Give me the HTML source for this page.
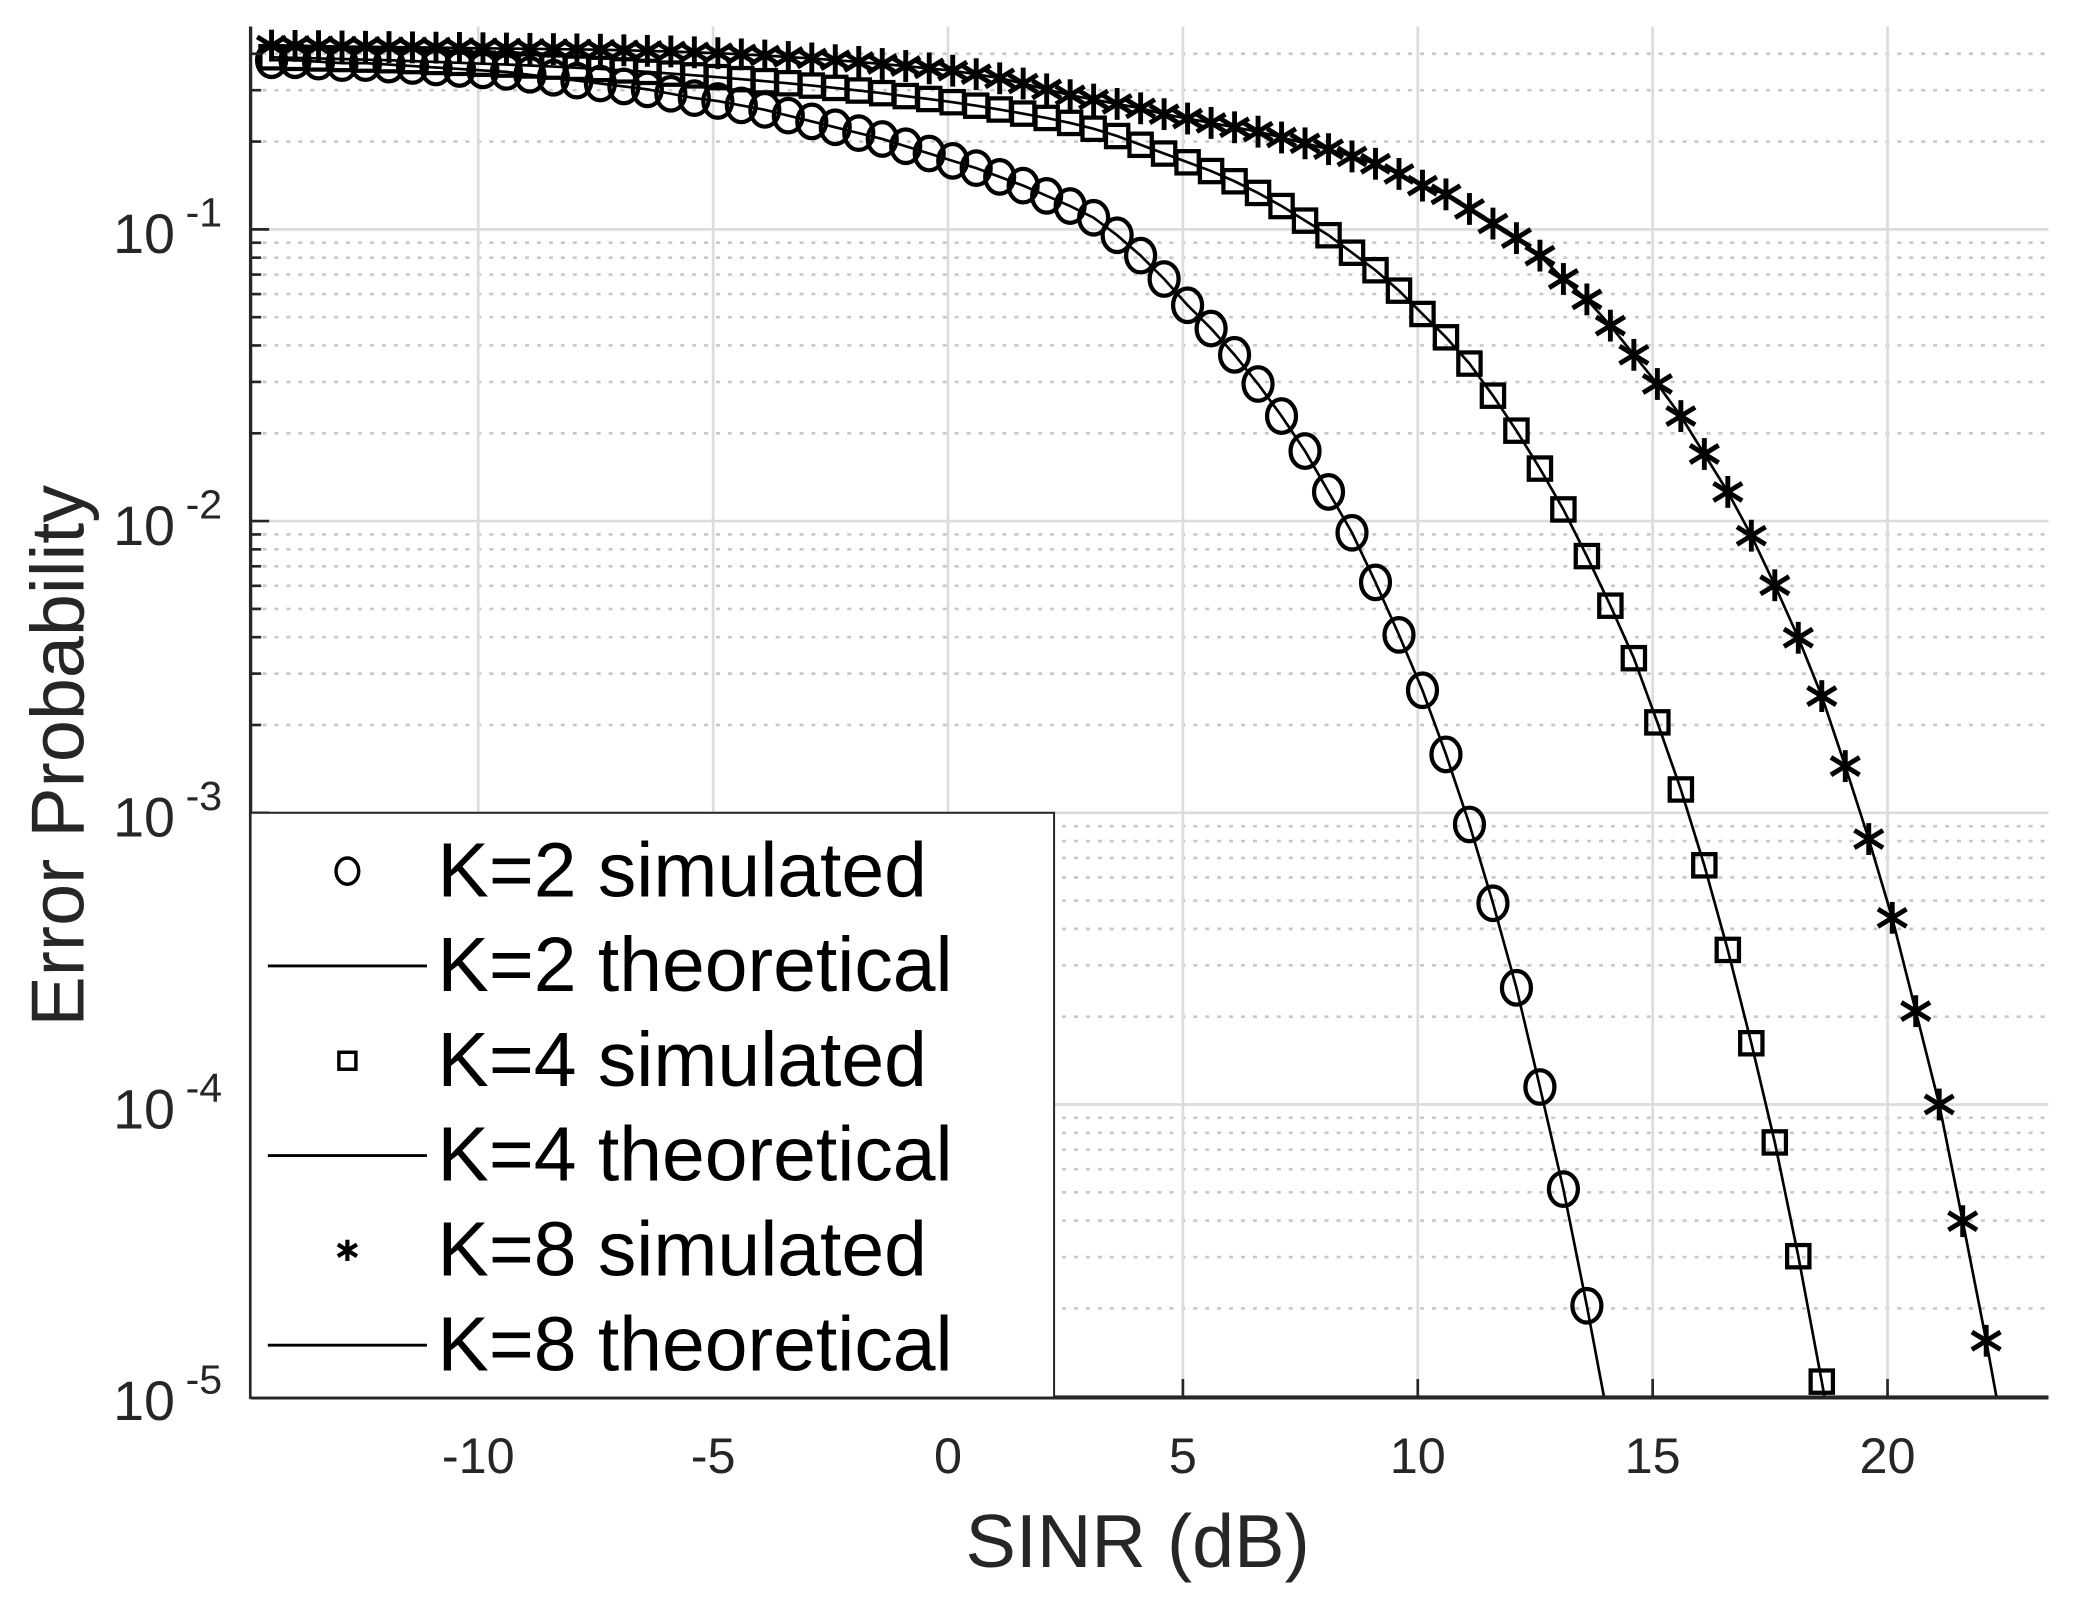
<!DOCTYPE html>
<html><head><meta charset="utf-8"><style>
html,body{margin:0;padding:0;background:#fff;}
svg{display:block;}
text{font-family:"Liberation Sans",Arial,sans-serif;}
</style></head><body>
<svg id="chart" width="2079" height="1600" viewBox="0 0 1568 1206.7" preserveAspectRatio="none" xmlns="http://www.w3.org/2000/svg">
<defs><clipPath id="plotclip"><rect x="189" y="20" width="1356" height="1034"/></clipPath></defs>
<g id="grid"></g>
<g id="series"></g>
<g id="axes"></g>
<text x="858" y="1182" font-size="57" text-anchor="middle" fill="#262626">SINR (dB)</text>
<text transform="translate(63,570) rotate(-90)" font-size="57" text-anchor="middle" fill="#262626">Error Probability</text>
<g id="legend"></g>
</svg>
<script>
const xTicks=[-10,-5,0,5,10,15,20];
const yDecades=[-5,-4,-3,-2,-1];
const sinrStart=-14.4, sinrStep=0.5;
const k2SimLog10=[-0.42,-0.42,-0.425,-0.43,-0.43,-0.435,-0.44,-0.445,-0.45,-0.455,-0.46,-0.47,-0.48,-0.49,-0.50,-0.51,-0.52,-0.535,-0.55,-0.56,-0.575,-0.59,-0.61,-0.63,-0.65,-0.67,-0.69,-0.715,-0.74,-0.765,-0.79,-0.82,-0.85,-0.885,-0.92,-0.96,-1.02,-1.09,-1.17,-1.26,-1.34,-1.43,-1.53,-1.64,-1.76,-1.90,-2.04,-2.21,-2.39,-2.58,-2.80,-3.04,-3.31,-3.60,-3.94,-4.29,-4.69];
const k2TheoryLog10=k2SimLog10.concat([-5.12]);
const k4SimLog10=[-0.41,-0.412,-0.414,-0.416,-0.418,-0.42,-0.423,-0.426,-0.429,-0.432,-0.435,-0.438,-0.442,-0.446,-0.45,-0.455,-0.46,-0.466,-0.472,-0.478,-0.485,-0.492,-0.499,-0.507,-0.515,-0.524,-0.533,-0.543,-0.553,-0.564,-0.576,-0.589,-0.603,-0.618,-0.635,-0.655,-0.68,-0.71,-0.74,-0.77,-0.80,-0.835,-0.875,-0.92,-0.97,-1.02,-1.08,-1.14,-1.21,-1.29,-1.37,-1.46,-1.57,-1.69,-1.82,-1.96,-2.12,-2.29,-2.47,-2.69,-2.92,-3.18,-3.47,-3.79,-4.13,-4.52,-4.95];
const k4TheoryLog10=k4SimLog10.concat([-5.4]);
const k8SimLog10=[-0.37,-0.371,-0.372,-0.373,-0.374,-0.375,-0.376,-0.377,-0.378,-0.379,-0.38,-0.381,-0.382,-0.383,-0.384,-0.386,-0.388,-0.39,-0.393,-0.396,-0.40,-0.404,-0.409,-0.414,-0.42,-0.426,-0.433,-0.44,-0.448,-0.456,-0.468,-0.482,-0.50,-0.52,-0.54,-0.555,-0.57,-0.585,-0.605,-0.62,-0.635,-0.65,-0.665,-0.685,-0.705,-0.725,-0.75,-0.775,-0.81,-0.85,-0.88,-0.93,-0.98,-1.03,-1.09,-1.17,-1.24,-1.33,-1.43,-1.53,-1.64,-1.77,-1.90,-2.05,-2.22,-2.40,-2.60,-2.84,-3.09,-3.36,-3.68,-4.00,-4.40,-4.81];
const k8TheoryLog10=k8SimLog10.concat([-5.25]);
const legendLabels=["K=2 simulated","K=2 theoretical","K=4 simulated","K=4 theoretical","K=8 simulated","K=8 theoretical"];

const NS="http://www.w3.org/2000/svg";
const L=189,R=1545,T=20,B=1054;
function xs(v){return 715+(v)*35.43;}
function ys(lg){return 173+(-1-lg)*220;}
function mk(tag,attrs,parent){const e=document.createElementNS(NS,tag);for(const k in attrs)e.setAttribute(k,attrs[k]);parent.appendChild(e);return e;}
const grid=document.getElementById('grid'),axes=document.getElementById('axes'),series=document.getElementById('series'),legend=document.getElementById('legend');

for(let d=-5;d<=0;d++){for(let m=2;m<=9;m++){const y=ys(d+Math.log10(m));if(y<T||y>B)continue;
 const g=mk('line',{x1:L,x2:R,y1:y,y2:y,stroke:'#c8c8c8','stroke-width':2,'stroke-dasharray':'3 6'},grid);
 
 
 const t=mk('line',{x1:L,x2:L+8,y1:y,y2:y,stroke:'#262626','stroke-width':2},axes);
 
 }}
yDecades.forEach(d=>{const y=ys(d);
 const g=mk('line',{x1:L,x2:R,y1:y,y2:y,stroke:'#dcdcdc','stroke-width':2},grid);
 
 
 const t=mk('line',{x1:L,x2:L+14,y1:y,y2:y,stroke:'#262626','stroke-width':2},axes);
 
 
 const tx=mk('text',{x:132,y:y+18,'font-size':42,'text-anchor':'end',fill:'#262626'},axes);
 
 
 tx.textContent='10';
 const sp=mk('text',{x:140,y:y-2,'font-size':31,fill:'#262626'},axes);
 
 
 sp.textContent=String(d);});
xTicks.forEach(v=>{const x=xs(v);
 const g=mk('line',{x1:x,x2:x,y1:T,y2:B,stroke:'#dcdcdc','stroke-width':2},grid);
 
 
 const t=mk('line',{x1:x,x2:x,y1:B,y2:B-14,stroke:'#262626','stroke-width':2},axes);
 
 
 const tx=mk('text',{x:x,y:1111,'font-size':38,'text-anchor':'middle',fill:'#262626'},axes);
 
 
 tx.textContent=String(v);});
const ax1=mk('line',{x1:L,x2:L,y1:T,y2:B+1,stroke:'#262626','stroke-width':2.5},axes);


const ax2=mk('line',{x1:L,x2:R,y1:B,y2:B,stroke:'#262626','stroke-width':3},axes);



function drawLine(arr,name){const pts=arr.map((v,i)=>xs(sinrStart+i*sinrStep).toFixed(1)+','+ys(v).toFixed(1)).join(' ');
 const p=mk('polyline',{points:pts,fill:'none',stroke:'#000','stroke-width':2,'clip-path':'url(#plotclip)'},series);
 
 }
function marker(type,cx,cy,s,parent,sw){
 if(type==='o')return mk('ellipse',{cx:cx,cy:cy,rx:s*0.95,ry:s*1.1,fill:'none',stroke:'#000','stroke-width':sw},parent);
 if(type==='s')return mk('rect',{x:cx-s*0.8,y:cy-s*0.8,width:s*1.6,height:s*1.6,fill:'none',stroke:'#000','stroke-width':sw},parent);
 const g=mk('g',{stroke:'#000','stroke-width':sw+0.5},parent);
 mk('line',{x1:cx,x2:cx,y1:cy-s,y2:cy+s},g);mk('line',{x1:cx-s*0.9,x2:cx+s*0.9,y1:cy-s*0.55,y2:cy+s*0.55},g);mk('line',{x1:cx-s*0.9,x2:cx+s*0.9,y1:cy+s*0.55,y2:cy-s*0.55},g);return g;}
function drawMarkers(arr,type,name){arr.forEach((v,i)=>{const m=marker(type,xs(sinrStart+i*sinrStep),ys(v),type==='o'?11.5:(type==='s'?10.5:12),series,3.2);
 
 });}
drawLine(k2TheoryLog10,'k2-theoretical-line');
drawLine(k4TheoryLog10,'k4-theoretical-line');
drawLine(k8TheoryLog10,'k8-theoretical-line');
drawMarkers(k2SimLog10,'o','k2-simulated-marker');
drawMarkers(k4SimLog10,'s','k4-simulated-marker');
drawMarkers(k8SimLog10,'*','k8-simulated-marker');

const lb=mk('rect',{x:189,y:613,width:606,height:441,fill:'#fff',stroke:'#262626','stroke-width':1.5},legend);


const types=['o','-','s','-','*','-'];
legendLabels.forEach((lab,i)=>{const cy=657+i*71.5;
 const g=mk('g',{},legend);
 
 
 if(types[i]==='-')mk('line',{x1:202,x2:322,y1:cy,y2:cy,stroke:'#000','stroke-width':2.2},g);
 else marker(types[i],262,cy,types[i]==='o'?9:8,g,2.6);
 const t=mk('text',{x:330,y:cy+19,'font-size':58,fill:'#000'},g);t.textContent=lab;});
</script>
</body></html>
